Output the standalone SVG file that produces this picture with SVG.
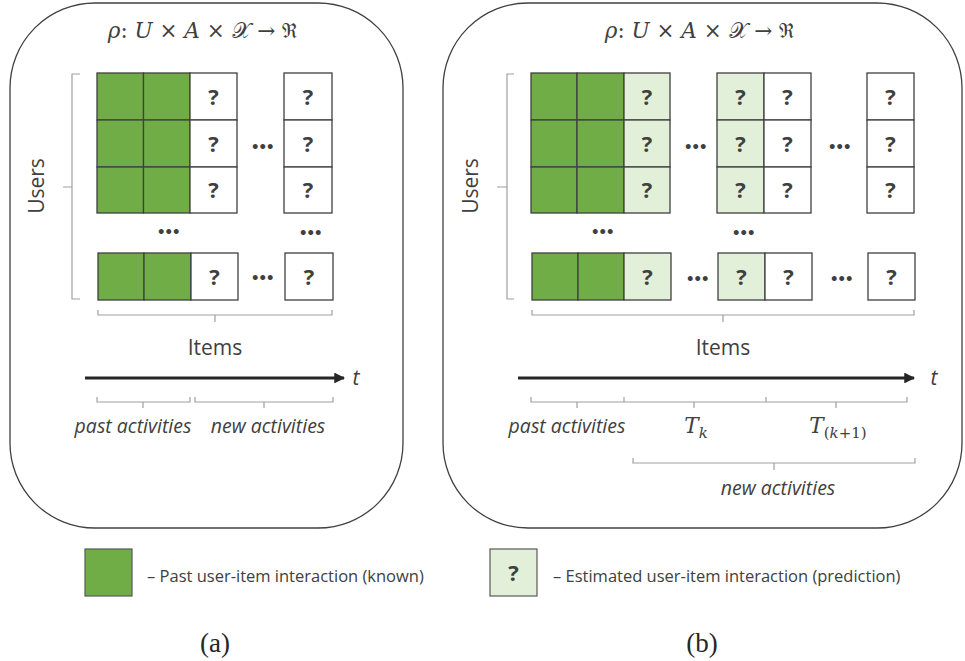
<svg xmlns="http://www.w3.org/2000/svg" width="965" height="661" viewBox="0 0 965 661">
<style>
.panel{fill:#fff;stroke:#404040;stroke-width:1.3}
.g{fill:#70AD47;stroke:#404040;stroke-width:1.3}
.w{fill:#fff;stroke:#404040;stroke-width:1.3}
.lg{fill:#E2F0D9;stroke:#404040;stroke-width:1.3}
.q{font-family:"Open Sans","DejaVu Sans",sans-serif;font-weight:bold;font-size:22px;fill:#404040;text-anchor:middle}
.dots{font-family:"DejaVu Sans",sans-serif;font-weight:bold;font-size:14px;fill:#404040;text-anchor:middle;letter-spacing:-1.5px}
.brace{fill:none;stroke:#a0a0a0;stroke-width:1.2}
.lbl{font-family:"Open Sans","DejaVu Sans",sans-serif;font-size:21px;fill:#404040;text-anchor:middle}
.it{font-family:"Open Sans","DejaVu Sans",sans-serif;font-style:italic;font-size:19.5px;fill:#404040;text-anchor:middle}
.math{font-family:"DejaVu Serif","Liberation Serif",serif;font-size:21.5px;fill:#404040;text-anchor:middle}
.mi{font-style:italic}
.leg{font-family:"Open Sans","DejaVu Sans",sans-serif;font-size:16.5px;fill:#404040}
.cap{font-family:"Liberation Serif","DejaVu Serif",serif;font-size:27px;fill:#262626;text-anchor:middle}
.axis{stroke:#262626;stroke-width:3;fill:none}
</style>
<defs>
<marker id="ah" viewBox="0 0 10 10" refX="9" refY="5" markerWidth="3.6" markerHeight="3.6" orient="auto" markerUnits="strokeWidth">
<path d="M0,0 L10,5 L0,10 z" fill="#262626"/>
</marker>
</defs>

<!-- Panel (a) -->
<g id="panel-a">
<rect class="panel" x="10" y="3" width="393" height="525" rx="85" ry="85"/>
<text class="math" x="203" y="38"><tspan class="mi">ρ</tspan>: <tspan class="mi">U</tspan> × <tspan class="mi">A</tspan> × 𝒳 → ℜ</text>
</g>

<g id="grid-a">
<rect class="g" x="97" y="73" width="46.5" height="47"/>
<rect class="g" x="143.5" y="73" width="46.5" height="47"/>
<rect class="w" x="190" y="73" width="47" height="47"/>
<rect class="g" x="97" y="120" width="46.5" height="47"/>
<rect class="g" x="143.5" y="120" width="46.5" height="47"/>
<rect class="w" x="190" y="120" width="47" height="47"/>
<rect class="g" x="97" y="167" width="46.5" height="46"/>
<rect class="g" x="143.5" y="167" width="46.5" height="46"/>
<rect class="w" x="190" y="167" width="47" height="46"/>
<rect class="w" x="284" y="73" width="48" height="47"/>
<rect class="w" x="284" y="120" width="48" height="47"/>
<rect class="w" x="284" y="167" width="48" height="46"/>
<rect class="g" x="98" y="253" width="46" height="47"/>
<rect class="g" x="144" y="253" width="47" height="47"/>
<rect class="w" x="191" y="253" width="47" height="47"/>
<rect class="w" x="285" y="253" width="48" height="47"/>
<text class="q" x="213.5" y="105">?</text>
<text class="q" x="213.5" y="152">?</text>
<text class="q" x="213.5" y="198">?</text>
<text class="q" x="308" y="105">?</text>
<text class="q" x="308" y="152">?</text>
<text class="q" x="308" y="198">?</text>
<text class="q" x="214.5" y="285">?</text>
<text class="q" x="309" y="285">?</text>
<text class="dots" x="262" y="152">•••</text>
<text class="dots" x="168" y="237">•••</text>
<text class="dots" x="310" y="238">•••</text>
<text class="dots" x="262" y="283">•••</text>
</g>

<g id="users-a">
<path class="brace" d="M80,74 L72,74 L72,299 L80,299 M72,187 L63,187"/>
<text class="lbl" transform="translate(44,186) rotate(-90)">Users</text>
</g>

<g id="items-a">
<path class="brace" d="M98,310 L98,315 L332,315 L332,310 M215,315 L215,322"/>
<text class="lbl" x="215" y="355">Items</text>
</g>

<g id="time-a">
<text class="it" x="356" y="385" style="font-size:21px">t</text>
<path class="brace" d="M97,397 L97,402 L190,402 L190,397 M143,402 L143,408 M195,397 L195,402 L333,402 L333,397 M264,402 L264,408"/>
<text class="it" x="133" y="433">past activities</text>
<text class="it" x="268" y="433">new activities</text>
</g>

<!-- Panel (b) -->
<g id="panel-b">
<rect class="panel" x="443" y="3" width="519" height="525" rx="85" ry="85"/>
<text class="math" x="700" y="38"><tspan class="mi">ρ</tspan>: <tspan class="mi">U</tspan> × <tspan class="mi">A</tspan> × 𝒳 → ℜ</text>
</g>

<g id="grid-b">
<rect class="g" x="531" y="73" width="46" height="47"/>
<rect class="g" x="577" y="73" width="47" height="47"/>
<rect class="lg" x="624" y="73" width="46" height="47"/>
<rect class="g" x="531" y="120" width="46" height="47"/>
<rect class="g" x="577" y="120" width="47" height="47"/>
<rect class="lg" x="624" y="120" width="46" height="47"/>
<rect class="g" x="531" y="167" width="46" height="46"/>
<rect class="g" x="577" y="167" width="47" height="46"/>
<rect class="lg" x="624" y="167" width="46" height="46"/>
<rect class="lg" x="717" y="73" width="47" height="47"/>
<rect class="w" x="764" y="73" width="47" height="47"/>
<rect class="lg" x="717" y="120" width="47" height="47"/>
<rect class="w" x="764" y="120" width="47" height="47"/>
<rect class="lg" x="717" y="167" width="47" height="46"/>
<rect class="w" x="764" y="167" width="47" height="46"/>
<rect class="w" x="867" y="73" width="47" height="47"/>
<rect class="w" x="867" y="120" width="47" height="47"/>
<rect class="w" x="867" y="167" width="47" height="46"/>
<rect class="g" x="532" y="253" width="46" height="47"/>
<rect class="g" x="578" y="253" width="46" height="47"/>
<rect class="lg" x="624" y="253" width="47" height="47"/>
<rect class="lg" x="718" y="253" width="47" height="47"/>
<rect class="w" x="765" y="253" width="47" height="47"/>
<rect class="w" x="868" y="253" width="47" height="47"/>
<text class="q" x="647" y="105">?</text>
<text class="q" x="647" y="152">?</text>
<text class="q" x="647" y="198">?</text>
<text class="q" x="740.5" y="105">?</text>
<text class="q" x="740.5" y="152">?</text>
<text class="q" x="740.5" y="198">?</text>
<text class="q" x="787.5" y="105">?</text>
<text class="q" x="787.5" y="152">?</text>
<text class="q" x="787.5" y="198">?</text>
<text class="q" x="890.5" y="105">?</text>
<text class="q" x="890.5" y="152">?</text>
<text class="q" x="890.5" y="198">?</text>
<text class="q" x="647.5" y="285">?</text>
<text class="q" x="741.5" y="285">?</text>
<text class="q" x="788.5" y="285">?</text>
<text class="q" x="891.5" y="285">?</text>
<text class="dots" x="695" y="152">•••</text>
<text class="dots" x="839" y="152">•••</text>
<text class="dots" x="602" y="237">•••</text>
<text class="dots" x="743" y="238">•••</text>
<text class="dots" x="697" y="284">•••</text>
<text class="dots" x="841" y="284">•••</text>
</g>

<g id="users-b">
<path class="brace" d="M514,74 L507,74 L507,299 L514,299 M507,187 L497,187"/>
<text class="lbl" transform="translate(478,186) rotate(-90)">Users</text>
</g>

<g id="items-b">
<path class="brace" d="M532,310 L532,315 L914,315 L914,310 M723,315 L723,322"/>
<text class="lbl" x="723" y="355">Items</text>
</g>

<g id="time-b">
<text class="it" x="934" y="385" style="font-size:21px">t</text>
<path class="brace" d="M531,397 L531,402 L907,402 L907,397 M624,397 L624,402 M766,397 L766,402 M577,402 L577,408 M694,402 L694,408 M836,402 L836,408"/>
<text class="it" x="567" y="433">past activities</text>
<text class="math" x="696" y="433"><tspan class="mi">T</tspan><tspan class="mi" dy="5" style="font-size:15px">k</tspan></text>
<text class="math" x="838" y="433"><tspan class="mi">T</tspan><tspan dy="5" style="font-size:15px">(<tspan class="mi">k</tspan>+1)</tspan></text>
<path class="brace" d="M633,458 L633,463 L915,463 L915,458 M774,463 L774,470"/>
<text class="it" x="778" y="495">new activities</text>
</g>

<g id="connectors">
<line class="axis" x1="85" y1="378" x2="344" y2="378" marker-end="url(#ah)"/>
<line class="axis" x1="518" y1="378" x2="914" y2="378" marker-end="url(#ah)"/>
</g>

<g id="legend-known">
<rect x="85" y="549" width="47" height="47" style="fill:#70AD47;stroke:#595959;stroke-width:1.2"/>
<text class="leg" x="147" y="582">– Past user-item interaction (known)</text>
</g>
<g id="legend-pred">
<rect x="490" y="549" width="47" height="47" style="fill:#E2F0D9;stroke:#595959;stroke-width:1.2"/>
<text class="q" x="513.5" y="581">?</text>
<text class="leg" x="553" y="582">– Estimated user-item interaction (prediction)</text>
</g>

<g id="captions">
<text class="cap" x="215" y="652">(a)</text>
<text class="cap" x="702" y="652">(b)</text>
</g>
</svg>
